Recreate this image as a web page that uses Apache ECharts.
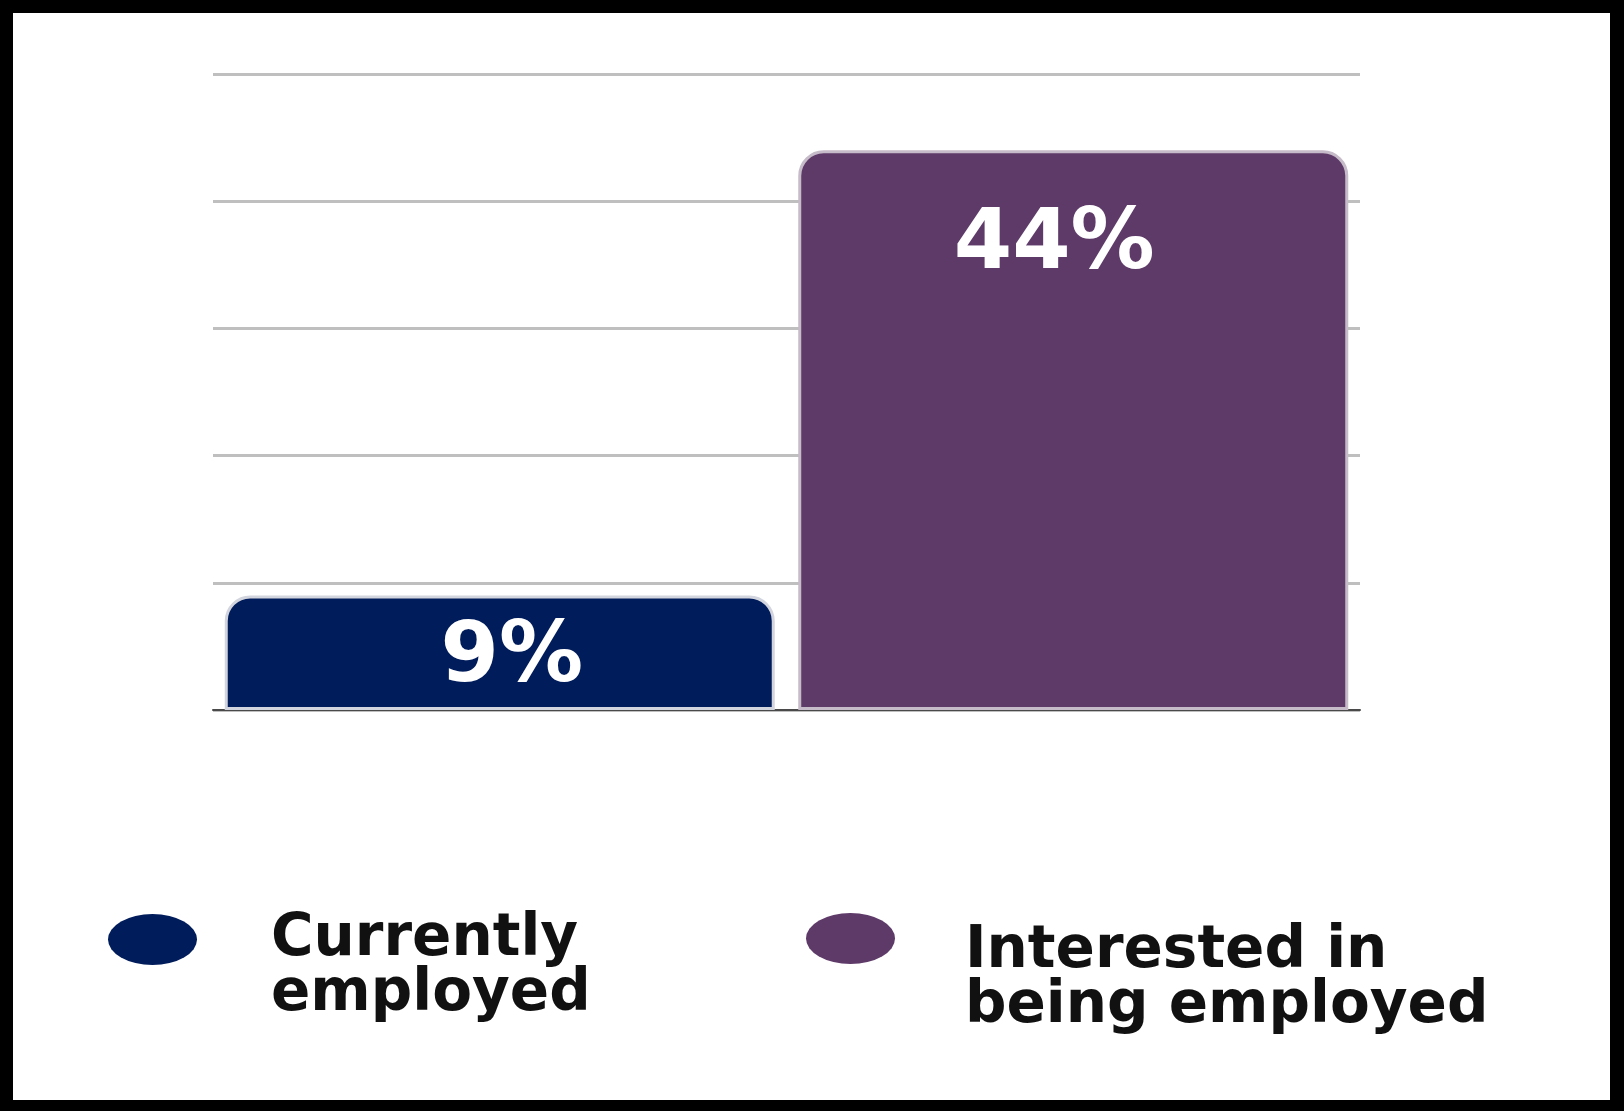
<!DOCTYPE html>
<html>
<head>
<meta charset="utf-8">
<script src="https://cdn.jsdelivr.net/npm/echarts@6/dist/echarts.min.js"></script>
<style>
html,body{margin:0;padding:0;background:#fff;}
#chart{width:1624px;height:1111px;}
</style>
</head>
<body>
<div id="chart"></div>
<script>
// ---- data ----
const categories = ['Currently employed', 'Interested in being employed'];
const values = [9, 44];
const legendLines = ['Currently\nemployed', 'Interested in\nbeing employed'];
const yMin = 0, yMax = 50, yStep = 10;

// ---- styles ----
const colors = ['#001c5b', '#5e3a69'];
const edgeColors = ['#d3d5de', '#c6bbc8'];
const labelDistance = [22, 54];
const labelOffset = [[12, 0], [-19, 0]];
// icon ellipse 89x51; box extended (invisible) so the text sits lower / further right
const legendPos = [
  { left: 108, top: 911, boxW: 158, boxH: 107 },
  { left: 806, top: 913, boxW: 154, boxH: 133 }
];
function iconPath(boxW, boxH) {
  const ux = (100 * boxW / 89).toFixed(2);
  const uy = (100 * boxH / 51).toFixed(2);
  return 'path://M0,50A50,50,0,1,1,100,50A50,50,0,1,1,0,50Z' +
         'M' + ux + ',' + uy + 'L' + ux + ',' + uy;
}

const chart = echarts.init(document.getElementById('chart'));

const series = categories.map((name, i) => ({
  name: name,
  type: 'bar',
  stack: 'all',
  barWidth: 550,
  itemStyle: {
    color: colors[i],
    borderColor: edgeColors[i],
    borderWidth: 3,
    borderRadius: [24, 24, 0, 0]
  },
  label: {
    show: true,
    position: 'insideTop',
    distance: labelDistance[i],
    offset: labelOffset[i],
    color: '#ffffff',
    fontFamily: 'DejaVu Sans',
    fontWeight: 'bold',
    fontSize: 84,
    formatter: '{c}%'
  },
  data: values.map((v, j) => (j === i ? v : '-'))
}));

const legends = categories.map((name, i) => ({
  data: [{ name: name, itemStyle: { borderWidth: 0 } }],
  orient: 'horizontal',
  left: legendPos[i].left,
  top: legendPos[i].top,
  padding: 0,
  itemWidth: legendPos[i].boxW,
  itemHeight: legendPos[i].boxH,
  icon: iconPath(legendPos[i].boxW, legendPos[i].boxH),
  symbolKeepAspect: false,
  selectedMode: false,
  itemStyle: { borderWidth: 0 },
  formatter: () => legendLines[i],
  textStyle: {
    color: '#111111',
    fontFamily: 'DejaVu Sans',
    fontWeight: 'bold',
    fontSize: 58,
    lineHeight: 55
  }
}));

chart.setOption({
  animation: false,
  backgroundColor: '#ffffff',
  grid: { left: 213, right: 264, top: 74, bottom: 401 },
  legend: legends,
  xAxis: {
    type: 'category',
    data: categories,
    axisLine: { show: true, lineStyle: { color: '#4a4a4a', width: 2 } },
    axisTick: { show: false },
    axisLabel: { show: false },
    splitLine: { show: false }
  },
  yAxis: {
    type: 'value',
    min: yMin,
    max: yMax,
    interval: yStep,
    axisLine: { show: false },
    axisTick: { show: false },
    axisLabel: { show: false },
    splitLine: { show: true, lineStyle: { color: '#bfbfbf', width: 3 } }
  },
  series: series,
  graphic: [
    { type: 'rect', silent: true, z: 100, shape: { x: 0, y: 0, width: 1624, height: 13 }, style: { fill: '#000' } },
    { type: 'rect', silent: true, z: 100, shape: { x: 0, y: 0, width: 13, height: 1111 }, style: { fill: '#000' } },
    { type: 'rect', silent: true, z: 100, shape: { x: 1610, y: 0, width: 14, height: 1111 }, style: { fill: '#000' } },
    { type: 'rect', silent: true, z: 100, shape: { x: 0, y: 1100, width: 1624, height: 11 }, style: { fill: '#000' } }
  ]
});
</script>
</body>
</html>
